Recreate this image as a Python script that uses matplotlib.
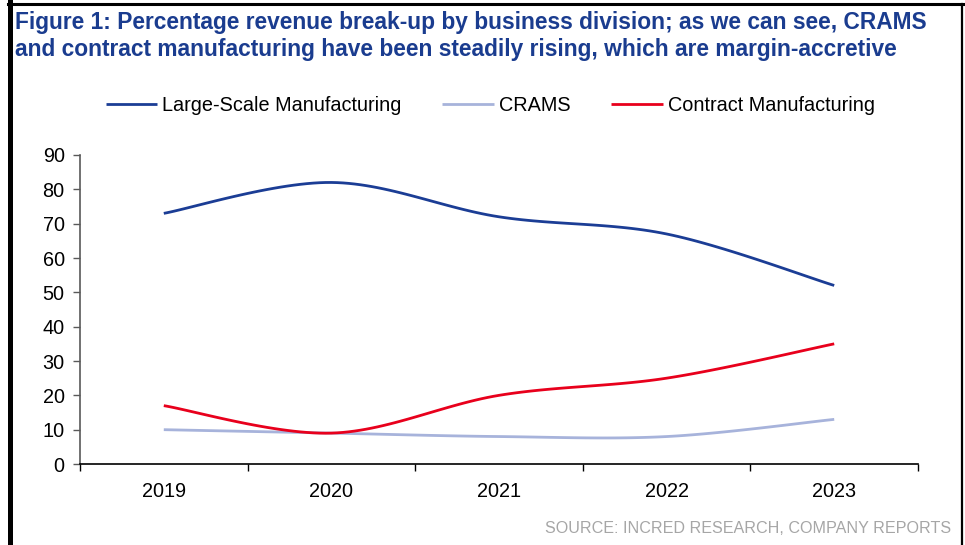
import numpy as np
import matplotlib.pyplot as plt
from matplotlib.lines import Line2D

plt.rcParams['font.family'] = ['Liberation Sans', 'DejaVu Sans']

years = ['2019', '2020', '2021', '2022', '2023']
large_scale = [73, 82, 72, 67, 52]
crams = [10, 9, 8, 8, 13]
contract = [17, 9, 20, 25, 35]

series = [
    ('Large-Scale Manufacturing', large_scale, '#1B3D95'),
    ('CRAMS', crams, '#A7B3DB'),
    ('Contract Manufacturing', contract, '#E8001C'),
]


def smooth(xs, ys, steps=30):
    # Excel-style smoothed line: cubic Bezier segments with Catmull-Rom tangents
    pts = np.column_stack([xs, ys]).astype(float)
    n = len(pts)
    out = []
    for i in range(n - 1):
        p0 = pts[max(i - 1, 0)]
        p1 = pts[i]
        p2 = pts[i + 1]
        p3 = pts[min(i + 2, n - 1)]
        c1 = p1 + (p2 - p0) / 6
        c2 = p2 - (p3 - p1) / 6
        t = np.linspace(0, 1, steps)[:, None]
        seg = ((1 - t) ** 3) * p1 + 3 * ((1 - t) ** 2) * t * c1 + 3 * (1 - t) * t ** 2 * c2 + t ** 3 * p2
        out.append(seg if i == 0 else seg[1:])
    seg = np.vstack(out)
    return seg[:, 0], seg[:, 1]


fig = plt.figure(figsize=(9.65, 5.45), dpi=100)
ax = fig.add_axes([0.0829, 0.1486, 0.8684, 0.567])

x = np.arange(len(years))
for name, vals, color in series:
    sx, sy = smooth(x, vals)
    ax.plot(sx, sy, color=color, linewidth=2.0, label=name, solid_capstyle='butt')

ax.set_xlim(-0.5, len(years) - 0.5)
ax.set_ylim(0, 90)
ax.set_yticks(range(0, 91, 10))
ax.set_xticks(x)
ax.set_xticklabels(years)
ax.set_xticks(np.arange(-0.5, len(years), 1), minor=True)
ax.tick_params(axis='x', which='major', length=0, pad=13, labelsize=14.3)
ax.tick_params(axis='x', which='minor', length=5, width=1, color='black', direction='out')
ax.tick_params(axis='y', length=5, width=1, color='#595959', labelsize=14.3, pad=6)
for side in ['top', 'right']:
    ax.spines[side].set_visible(False)
ax.spines['left'].set_color('#595959')
ax.spines['left'].set_linewidth(1.2)
ax.spines['bottom'].set_color('black')
ax.spines['bottom'].set_linewidth(1.2)

fig.legend(loc='center', bbox_to_anchor=(0.508, 0.806), ncol=3, frameon=False,
           fontsize=14.3, handlelength=2.6, handletextpad=0.25, columnspacing=2.05)

fig.text(0.0155, 0.979, 'Figure 1: Percentage revenue break-up by business division; as we can see, CRAMS\n'
         'and contract manufacturing have been steadily rising, which are margin-accretive',
         ha='left', va='top', fontsize=16.4, fontweight='bold', color='#1A3C8F', linespacing=1.2)

fig.text(0.986, 0.016, 'SOURCE: INCRED RESEARCH, COMPANY REPORTS', ha='right', va='bottom',
         fontsize=11.6, color='#A6A6A6')

# outer frame: thick left rule, thin top and right rules
fig.add_artist(Line2D([9.5 / 965, 9.5 / 965], [0, 1 - 2 / 545], color='black', linewidth=3.6))
fig.add_artist(Line2D([8 / 965, 963 / 965], [1 - 3.5 / 545, 1 - 3.5 / 545], color='black', linewidth=2.2))
fig.add_artist(Line2D([962 / 965, 962 / 965], [0, 1 - 3.5 / 545], color='black', linewidth=1.6))

fig.savefig('out.png', dpi=100)
